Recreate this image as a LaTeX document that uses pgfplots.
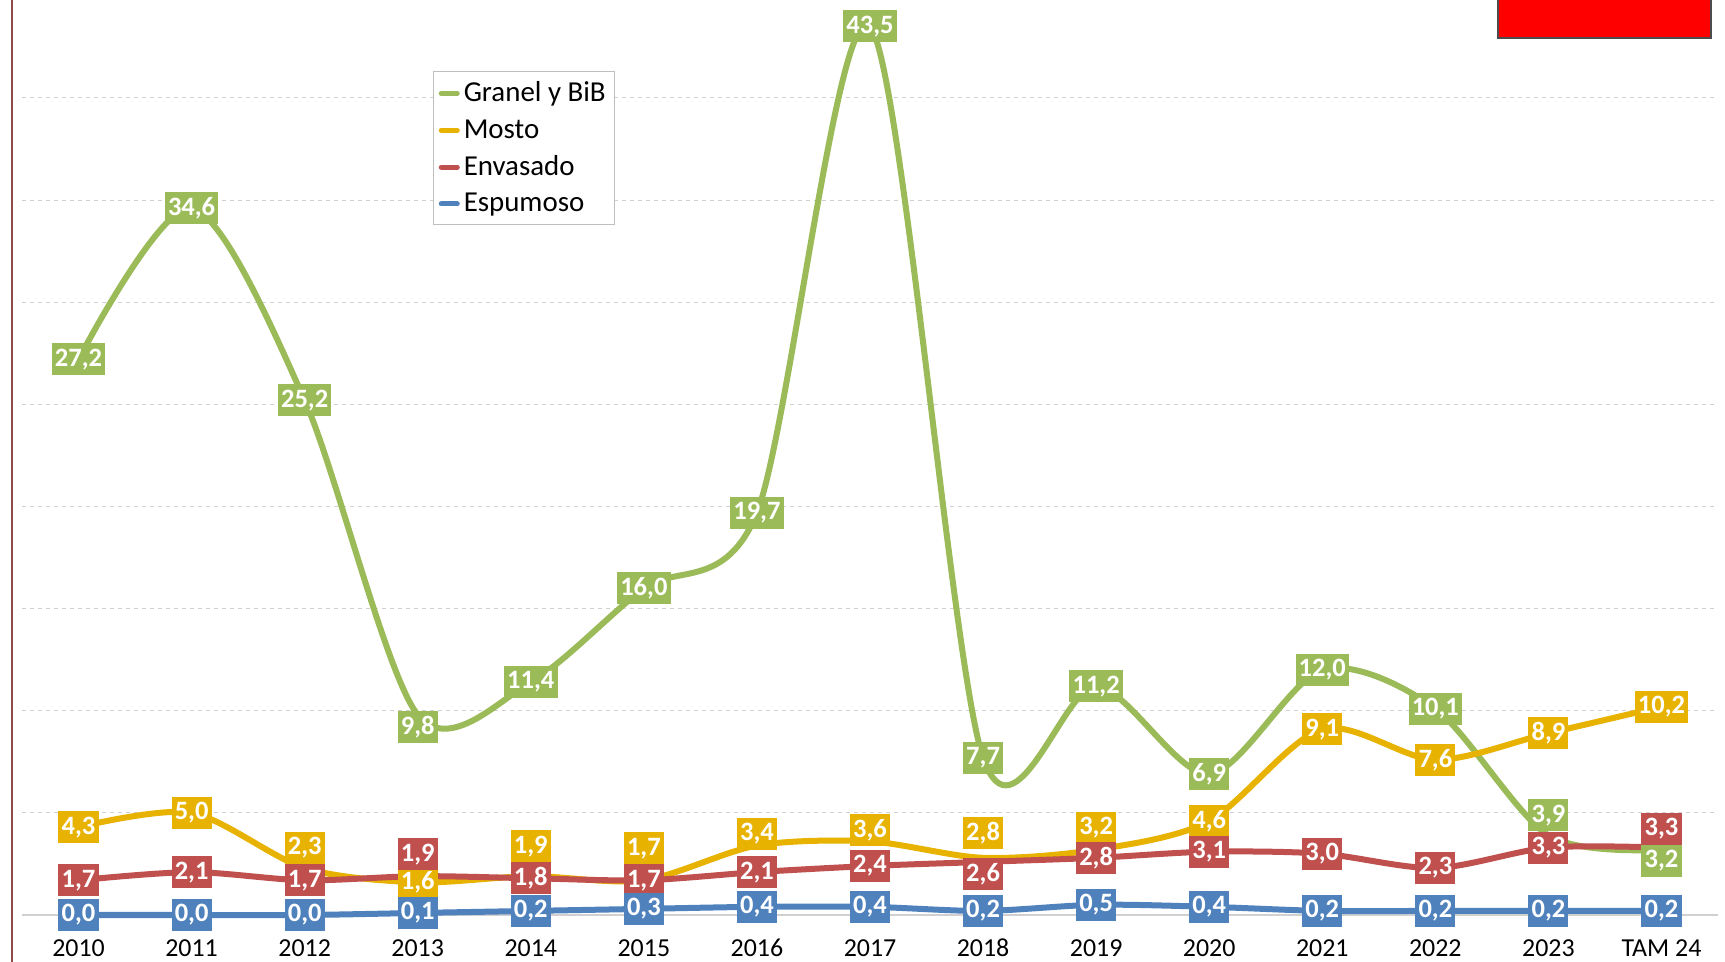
\documentclass[border=0pt]{standalone}
\usepackage{fontspec}
\setmainfont{Carlito}
\usepackage{pgfplots}
\usepackage{pgfplotstable}
\pgfplotsset{compat=1.18}
\definecolor{cGreen}{HTML}{9BBB59}
\definecolor{cGold}{HTML}{E8B200}
\definecolor{cRed}{HTML}{C0504D}
\definecolor{cBlue}{HTML}{4F81BD}
\definecolor{cGrid}{HTML}{D0D0D0}
\definecolor{cLeft}{HTML}{8E4B4B}

\pgfplotstableread{
x y lbl dy
0 27.2 27,2 0
1 34.6 34,6 0
2 25.2 25,2 0
3 9.8 9,8 -6
4 11.4 11,4 0
5 16.0 16,0 0
6 19.7 19,7 0
7 43.5 43,5 0
8 7.7 7,7 0
9 11.2 11,2 0
10 6.9 6,9 0
11 12.0 12,0 0
12 10.1 10,1 0
13 3.9 3,9 10
14 3.2 3,2 -5.5
}\granel

\pgfplotstableread{
x y lbl dy
0 4.3 4,3 0
1 5.0 5,0 0
2 2.3 2,3 10
3 1.6 1,6 0
4 1.9 1,9 15
5 1.7 1,7 16
6 3.4 3,4 6
7 3.6 3,6 5.5
8 2.8 2,8 12.5
9 3.2 3,2 11
10 4.6 4,6 0
11 9.1 9,1 0
12 7.6 7,6 0
13 8.9 8,9 0
14 10.2 10,2 0
}\mosto

\pgfplotstableread{
x y lbl dy
0 1.7 1,7 0
1 2.1 2,1 0
2 1.7 1,7 0
3 1.9 1,9 11
4 1.8 1,8 0
5 1.7 1,7 0
6 2.1 2,1 0
7 2.4 2,4 0
8 2.6 2,6 -6
9 2.8 2,8 0
10 3.1 3,1 0
11 3.0 3,0 0
12 2.3 2,3 0
13 3.3 3,3 0
14 3.3 3,3 9.5
}\envasado

\pgfplotstableread{
x y lbl dy
0 0.0 0,0 0
1 0.0 0,0 0
2 0.0 0,0 0
3 0.1 0,1 0
4 0.2 0,2 0
5 0.3 0,3 0
6 0.4 0,4 0
7 0.4 0,4 0
8 0.2 0,2 0
9 0.5 0,5 0
10 0.4 0,4 0
11 0.2 0,2 0
12 0.2 0,2 0
13 0.2 0,2 0
14 0.2 0,2 0
}\espumoso

\begin{document}
\begin{tikzpicture}
\path[use as bounding box] (0,0) rectangle (862.5bp,481bp);
\draw[cLeft, line width=0.7bp] (6bp,0) -- (6bp,481bp);
\begin{axis}[
  at={(11bp,23.5bp)}, anchor=south west,
  scale only axis, width=848bp, height=456.5bp,
  xmin=-0.5, xmax=14.5, ymin=0, ymax=44.7,
  clip=false,
  axis line style={draw=none},
  major tick length=0pt,
  xtick={0,...,14},
  xticklabels={2010,2011,2012,2013,2014,2015,2016,2017,2018,2019,2020,2021,2022,2023,TAM 24},
  xticklabel style={anchor=base, yshift=-20.5bp, font=\fontsize{13}{13}\selectfont},
  ytick={5,10,...,40},
  yticklabels={},
  ymajorgrids,
  grid style={cGrid, dash pattern=on 2bp off 2bp, line width=0.5bp},
  extra y ticks={0},
  extra y tick labels={},
  extra y tick style={grid style={solid, cGrid, line width=0.7bp}},
  legend style={at={(rel axis cs:0.2425,0.924)}, anchor=north west,
    draw=black!25, line width=0.5bp, inner xsep=2.5bp, inner ysep=3bp,
    font=\fontsize{14.5}{17.4}\selectfont, cells={anchor=west},
    row sep=3.3bp},
  legend image code/.code={\draw[line width=2.5bp, line cap=round] (0bp,0bp) -- (8bp,0bp);},
  legend cell align=left,
  point meta=explicit symbolic,
  nodes near coords,
  visualization depends on={\thisrow{dy} \as \dy},
  every node near coord/.append style={anchor=center, yshift=\dy bp,
    text=white, font=\bfseries\fontsize{13.3}{13.3}\selectfont,
    inner xsep=1.6bp, inner ysep=0pt, minimum height=16bp},
]
\addplot[cGreen, line width=3bp, smooth, tension=0.5,
  every node near coord/.append style={fill=cGreen}]
  table[x=x, y=y, meta=lbl] {\granel};
\addlegendentry{Granel y BiB}
\addplot[cGold, line width=3bp, smooth, tension=0.5,
  every node near coord/.append style={fill=cGold}]
  table[x=x, y=y, meta=lbl] {\mosto};
\addlegendentry{Mosto}
\addplot[cRed, line width=3bp, smooth, tension=0.5,
  every node near coord/.append style={fill=cRed}]
  table[x=x, y=y, meta=lbl] {\envasado};
\addlegendentry{Envasado}
\addplot[cBlue, line width=3bp, smooth, tension=0.5,
  every node near coord/.append style={fill=cBlue}]
  table[x=x, y=y, meta=lbl] {\espumoso};
\addlegendentry{Espumoso}
\end{axis}
\draw[black!70, fill=red, line width=0.6bp] (749bp,462bp) rectangle (855.5bp,482bp);
\end{tikzpicture}
\end{document}
